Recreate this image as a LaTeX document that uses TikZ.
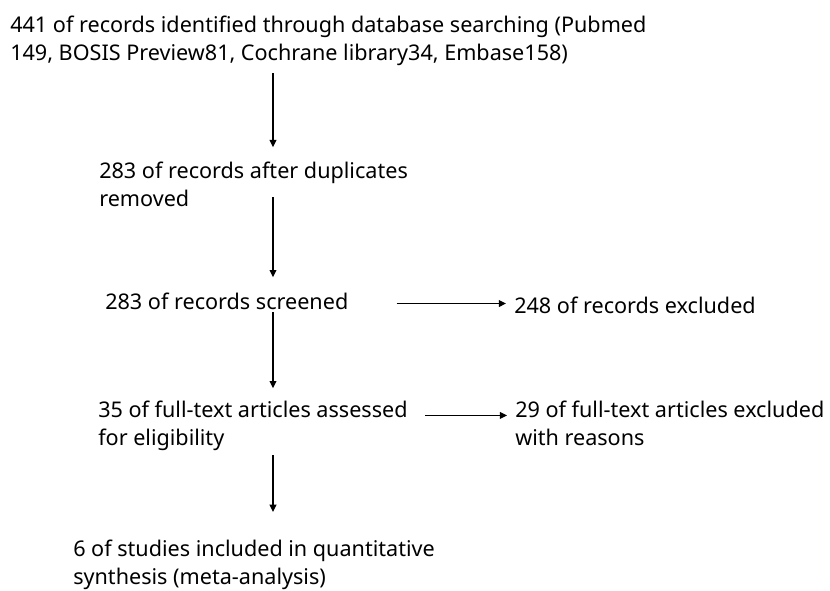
\documentclass[tikz,border=0pt]{standalone}
\usepackage{fontspec}
\setmainfont{Noto Sans}
\usetikzlibrary{arrows.meta,positioning,calc}

\begin{document}
\begin{tikzpicture}[
  x=0.75pt, y=-0.75pt,
  stagetext/.style={
    anchor=base west,
    inner sep=0pt,
    align=left,
    font=\fontsize{16.2}{21}\selectfont
  },
  arrow/.style={-{Triangle[length=1.9mm,width=1.8mm]}, line width=1pt}
]
\useasboundingbox (0,0) rectangle (830,591);

\node[stagetext] (idbox) at (10,61)
  {441 of records identified through database searching (Pubmed\\
   149, BOSIS Preview81, Cochrane library34, Embase158)};
\node[stagetext] (dupbox) at (99,207)
  {283 of records after duplicates\\removed};
\node[stagetext] (scrbox) at (105,309)
  {283 of records screened};
\node[stagetext] (exclbox) at (514,313)
  {248 of records excluded};
\node[stagetext] (fullbox) at (98,445)
  {35 of full-text articles assessed\\for eligibility};
\node[stagetext] (fexclbox) at (515,445)
  {29 of full-text articles excluded\\with reasons};
\node[stagetext] (inclbox) at (73,584)
  {6 of studies included in quantitative\\synthesis (meta-analysis)};

\coordinate (spine) at (273,0);

% main flow
\draw[arrow, shorten <=5.25pt, shorten >=11.25pt] (idbox.south -| spine) -- (dupbox.north -| spine);
\draw[arrow, shorten <=-7.5pt, shorten >=11.25pt] (dupbox.south -| spine) -- (scrbox.north -| spine);
\draw[arrow, shorten <=2.25pt, shorten >=9pt] (scrbox.south -| spine) -- (fullbox.north -| spine);
\draw[arrow, shorten <=3.75pt, shorten >=20.5pt] (fullbox.south -| spine) -- (inclbox.north -| spine);

% exclusions
\draw[arrow, shorten <=36pt, shorten >=6pt] ([yshift=-2pt]scrbox.east)
  -- ([yshift=-2pt]scrbox.east -| exclbox.west);
\draw[arrow, shorten <=13pt, shorten >=6pt] ([yshift=-11.4pt]fullbox.north east)
  -- ([yshift=-11.4pt]fullbox.north east -| fexclbox.west);
\end{tikzpicture}
\end{document}
